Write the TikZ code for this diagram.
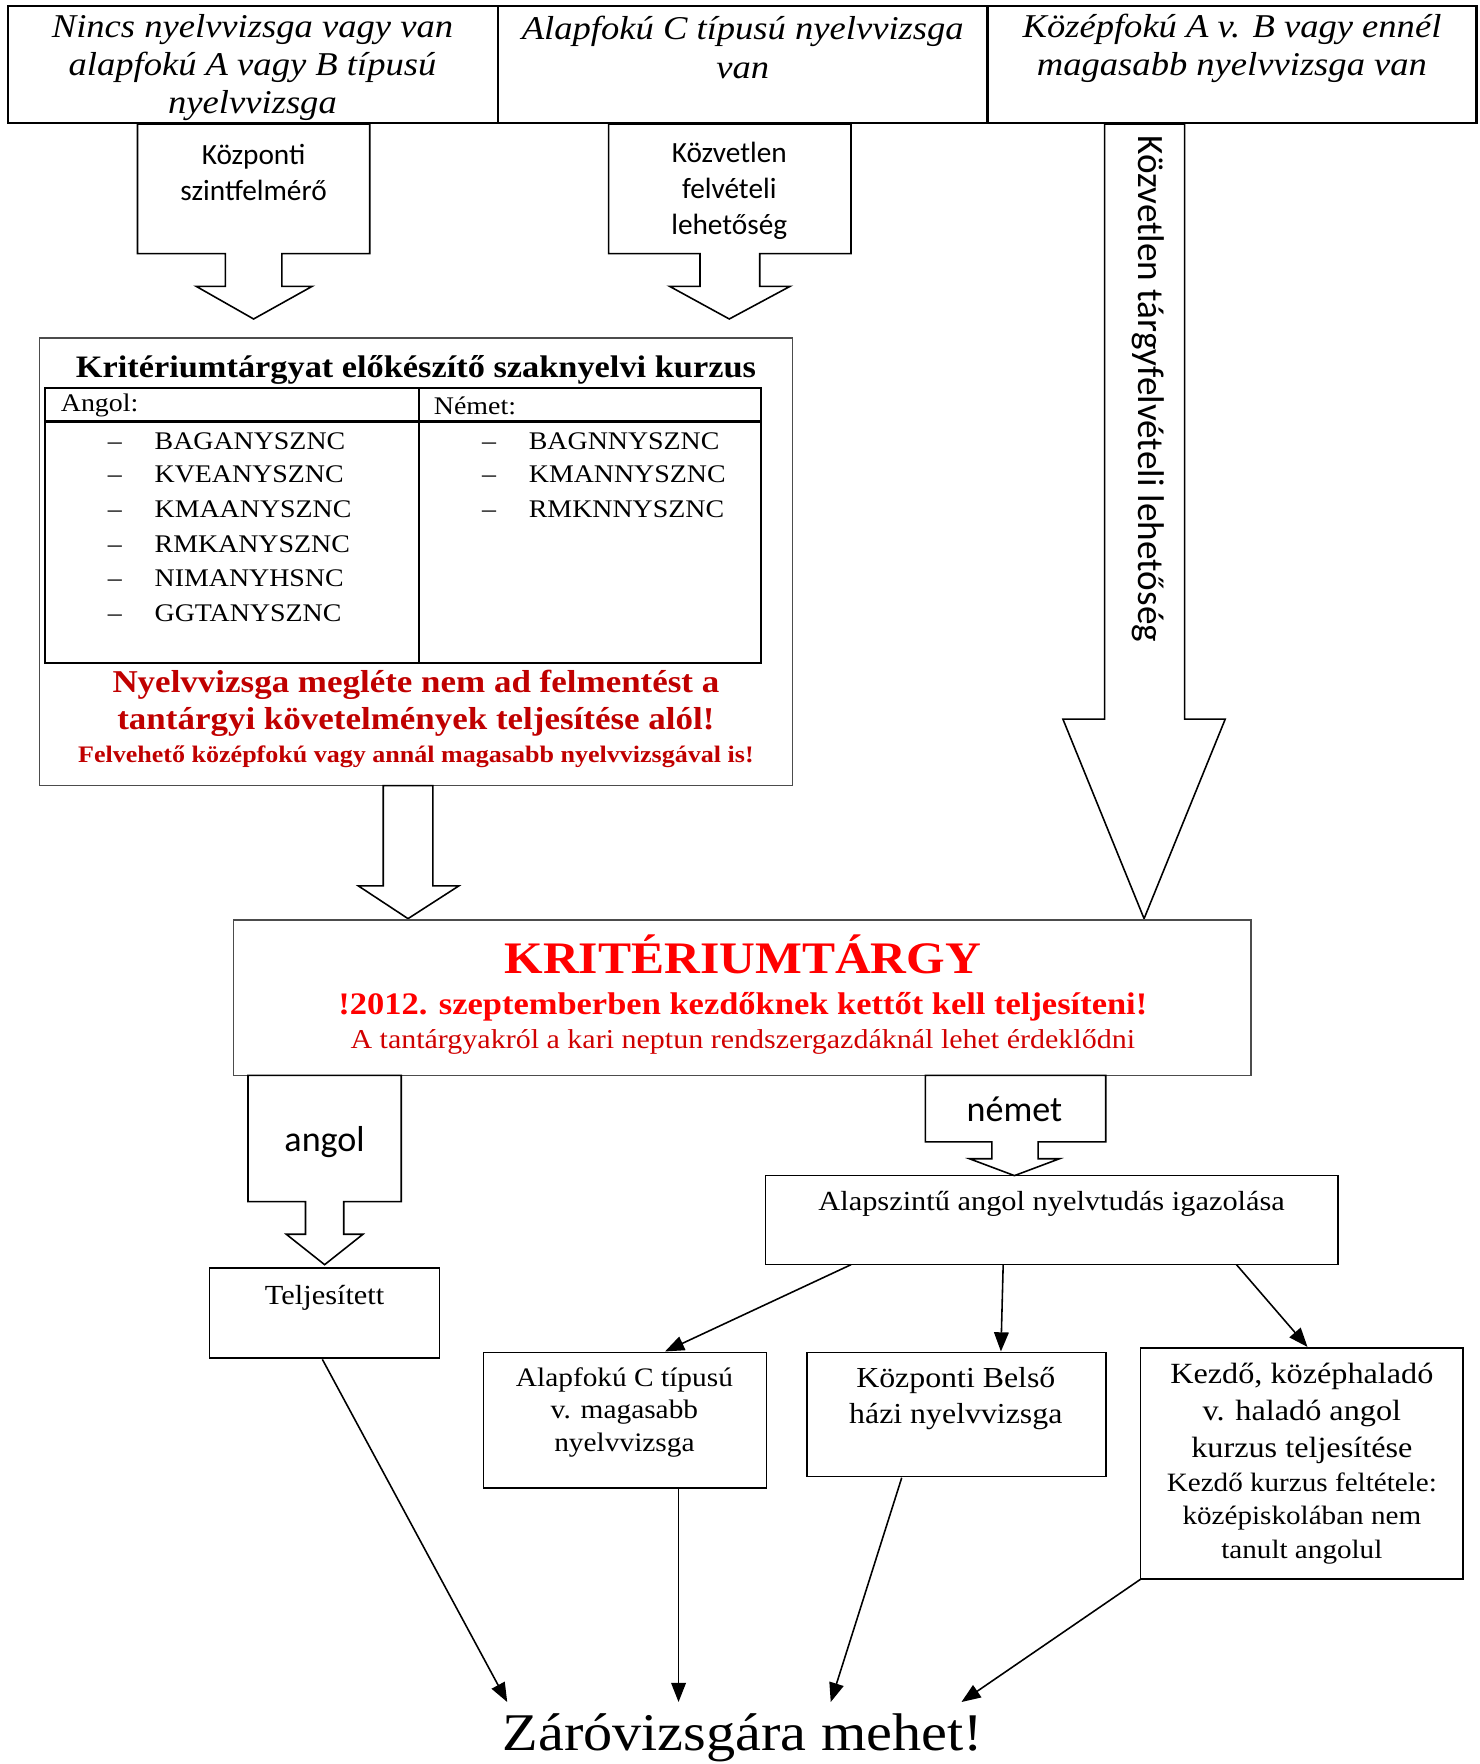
\documentclass[tikz,border=0pt]{standalone}
\usepackage{fontspec}
\setmainfont{Liberation Serif}[FakeStretch=1.1]
\newfontfamily\calibri{Carlito}
\usetikzlibrary{arrows.meta,calc}
\definecolor{dred}{HTML}{C00000}
\definecolor{bred}{HTML}{FF0000}
\definecolor{mred}{HTML}{D00000}
\newcommand{\hdrfont}{\fontsize{29.5}{34}\selectfont\itshape}
\newcommand{\tabfont}{\fontsize{22.5}{27}\selectfont}
\newcommand{\boxfont}{\fontsize{24.5}{29}\selectfont}
\begin{document}
\begin{tikzpicture}[x=1pt,y=-1pt,
  box/.style={draw=black, line width=1.4pt, inner sep=0pt, outer sep=0pt, anchor=north west},
  blk/.style={draw=black, line width=1.4pt, fill=white, line join=miter},
  arr/.style={-{Triangle[length=17pt,width=13pt]}, line width=1.4pt},
  txt/.style={inner sep=0pt, outer sep=0pt, align=center},
]
\useasboundingbox (0,0) rectangle (1313,1565);

% ---------- top header row
\node[box, line width=2pt, minimum width=435pt, minimum height=104pt] (c1) at (7,5) {};
\node[box, line width=2pt, minimum width=434pt, minimum height=104pt] (c2) at (442,5) {};
\node[box, line width=2pt, minimum width=434pt, minimum height=104pt] (c3) at (876,5) {};
\node[txt, font=\hdrfont] (h1) at (224,60) {Nincs nyelvvizsga vagy van\\alapfokú A vagy B típusú\\nyelvvizsga};
\node[txt, font=\hdrfont] (h2) at (659,42) {Alapfokú C típusú nyelvvizsga\\van};
\node[txt, font=\hdrfont] (h3) at (1093,43) {Középfokú A v. B vagy ennél\\magasabb nyelvvizsga van};

% ---------- callout arrows below header
\draw[blk] (122,110) -- (328,110) -- (328,225) -- (250,225) -- (250,254) -- (277,254) -- (225,283) -- (174,254) -- (200,254) -- (200,225) -- (122,225) -- cycle;
\draw[blk] (540,110) -- (755,110) -- (755,225) -- (674,225) -- (674,254) -- (701,254) -- (647,283) -- (594,254) -- (621,254) -- (621,225) -- (540,225) -- cycle;
\draw[blk] (980,110) -- (1051,110) -- (1051,638) -- (1087,638) -- (1015,815) -- (943,638) -- (980,638) -- cycle;
\node[txt, font=\calibri\fontsize{26}{32}\selectfont] (kp) at (225,153) {Központi\\szintfelmérő};
\node[txt, font=\calibri\fontsize{26}{32}\selectfont] (kv) at (647,169) {Közvetlen\\felvételi\\lehetőség};
\node[inner sep=0pt, font=\calibri\fontsize{33}{40}\selectfont, rotate=-90, anchor=west] (rot) at (1019,120) {Közvetlen tárgyfelvételi lehetőség};

% ---------- preparatory course box
\node[box, draw=black!70, minimum width=668pt, minimum height=397pt] (course) at (35,300) {};
\node[txt, font=\bfseries\fontsize{27.7}{33}\selectfont] (title) at (369,328) {Kritériumtárgyat előkészítő szaknyelvi kurzus};
\node[box, line width=2pt, minimum width=635pt, minimum height=244pt] (tab) at (40,344) {};
\draw[line width=2pt] ($(tab.north west)+(0,30)$) -- ($(tab.north east)+(0,30)$);
\draw[line width=1.6pt] ($(tab.north west)+(332,0)$) -- ($(tab.south west)+(332,0)$);
\node[txt, font=\tabfont, anchor=west] (angolh) at (54,360) {Angol:};
\node[txt, font=\tabfont, anchor=west] (nemeth) at (385,360) {Német:};
\foreach \t/\y [count=\i] in {BAGANYSZNC/391, KVEANYSZNC/421, KMAANYSZNC/452, RMKANYSZNC/483, NIMANYHSNC/513, GGTANYSZNC/544}{
  \node[inner sep=0pt, font=\tabfont, anchor=base] (ad\i) at (102,\y+7.5) {–};
  \node[inner sep=0pt, font=\tabfont, anchor=base west] (a\i) at (137,\y+7.5) {\t};
}
\foreach \t/\y [count=\i] in {BAGNNYSZNC/391, KMANNYSZNC/421, RMKNNYSZNC/452}{
  \node[inner sep=0pt, font=\tabfont, anchor=base] (nd\i) at (434,\y+7.5) {–};
  \node[inner sep=0pt, font=\tabfont, anchor=base west] (n\i) at (469,\y+7.5) {\t};
}
\node[txt, text=dred, font=\bfseries\fontsize{28.2}{33}\selectfont] (warn) at (369,624) {Nyelvvizsga megléte nem ad felmentést a\\tantárgyi követelmények teljesítése alól!};
\node[txt, text=dred, font=\bfseries\fontsize{21}{25}\selectfont] (warn2) at (369,671) {Felvehető középfokú vagy annál magasabb nyelvvizsgával is!};

\draw[blk] (340,697) -- (384,697) -- (384,786) -- (407,786) -- (362,815) -- (318,786) -- (340,786) -- cycle;

% ---------- KRITERIUMTARGY box
\node[box, draw=black!70, minimum width=903pt, minimum height=138pt] (krit) at (207,816) {};
\node[txt, text=bred, font=\bfseries\fontsize{40}{48}\selectfont] (kt) at (659,847) {KRITÉRIUMTÁRGY};
\node[txt, text=bred, font=\bfseries\fontsize{27.8}{33}\selectfont] (k2) at (659,893) {!2012. szeptemberben kezdőknek kettőt kell teljesíteni!};
\node[txt, text=mred, font=\fontsize{24.2}{29}\selectfont] (k3) at (659,924) {A tantárgyakról a kari neptun rendszergazdáknál lehet érdeklődni};

% ---------- angol / német callouts
\draw[blk] (220,954) -- (356,954) -- (356,1066) -- (305,1066) -- (305,1095) -- (322,1095) -- (288,1122) -- (254,1095) -- (271,1095) -- (271,1066) -- (220,1066) -- cycle;
\draw[blk] (821,954) -- (981,954) -- (981,1013) -- (921,1013) -- (921,1028) -- (940,1028) -- (900,1043) -- (860,1028) -- (880,1028) -- (880,1013) -- (821,1013) -- cycle;
\node[txt, font=\calibri\fontsize{32}{38}\selectfont] (angol) at (288,1013) {angol};
\node[txt, font=\calibri\fontsize{32}{38}\selectfont] (nemet) at (900,984) {német};

% ---------- lower boxes
\node[box, minimum width=508pt, minimum height=79pt] (alap) at (679,1043) {};
\node[txt, font=\boxfont] (alapt) at (933,1068) {Alapszintű angol nyelvtudás igazolása};
\node[box, minimum width=204pt, minimum height=80pt] (telj) at (186,1125) {};
\node[txt, font=\boxfont] (teljt) at (288,1151) {Teljesített};
\node[box, minimum width=251pt, minimum height=120pt] (alapc) at (429,1200) {};
\node[txt, font=\fontsize{23.7}{29}\selectfont] (alapct) at (554,1253) {Alapfokú C típusú\\v. magasabb\\nyelvvizsga};
\node[box, minimum width=265pt, minimum height=110pt] (kb) at (716,1200) {};
\node[txt, font=\fontsize{25.7}{32}\selectfont] (kbt) at (848,1241) {Központi Belső\\házi nyelvvizsga};
\node[box, minimum width=286pt, minimum height=205pt] (kez) at (1012,1196) {};
\node[txt, font=\fontsize{26}{32.5}\selectfont] (kezt) at (1155,1254) {Kezdő, középhaladó\\v. haladó angol\\kurzus teljesítése};
\node[txt, font=\fontsize{23.5}{29.5}\selectfont] (kezt2) at (1155,1347) {Kezdő kurzus feltétele:\\középiskolában nem\\tanult angolul};

% ---------- final text
\node[inner sep=0pt, font=\fontsize{47}{56}\selectfont, anchor=base] (zaro) at (659,1553) {Záróvizsgára mehet!};

% ---------- connectors
\coordinate (s1) at (755,1122); \coordinate (e1) at (590,1199);
\coordinate (s2) at (890,1122); \coordinate (e2) at (888,1199);
\coordinate (s3) at (1097,1122); \coordinate (e3) at (1160,1195);
\draw[arr] (s1) -- (e1);
\draw[arr] (s2) -- (e2);
\draw[arr] (s3) -- (e3);
\coordinate (b1) at (286,1206); \coordinate (z1) at (450,1510);
\coordinate (b2) at (602,1321); \coordinate (z2) at (602,1510);
\coordinate (b3) at (800,1311); \coordinate (z3) at (737,1510);
\coordinate (b4) at (1012,1401); \coordinate (z4) at (853,1510);
\draw[arr] (b1) -- (z1);
\draw[arr] (b2) -- (z2);
\draw[arr] (b3) -- (z3);
\draw[arr] (b4) -- (z4);
\end{tikzpicture}
\end{document}
